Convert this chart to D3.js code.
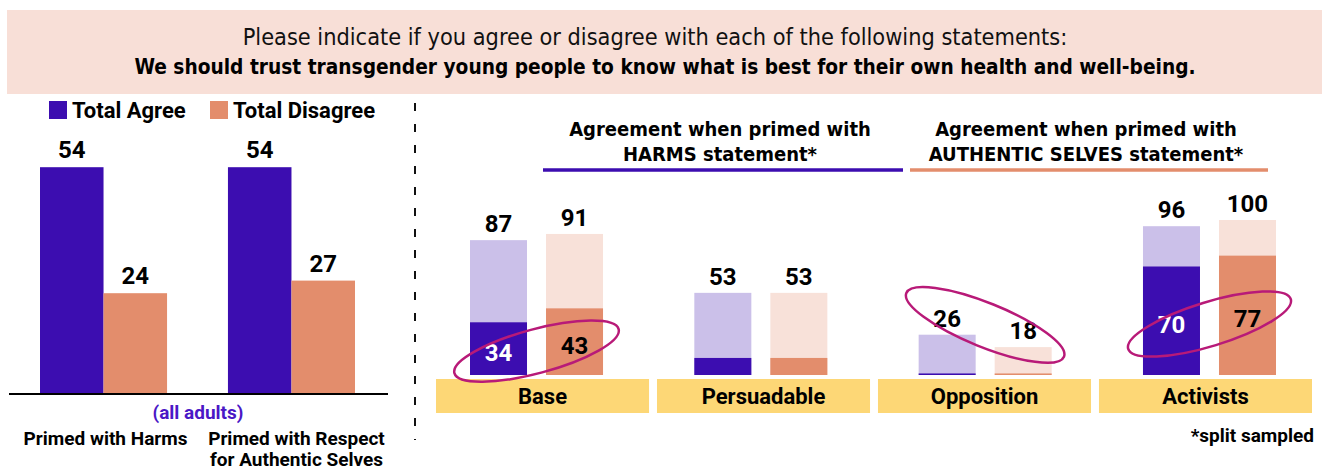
<!DOCTYPE html>
<html>
<head>
<meta charset="utf-8">
<script src="https://cdn.jsdelivr.net/npm/d3@7"></script>
<style>
  body { margin: 0; background: #fff; }
  svg { display: block; }
</style>
</head>
<body>
<div id="chart"></div>
<script>
// ---- data ----
var questionLine1 = "Please indicate if you agree or disagree with each of the following statements:";
var questionLine2 = "We should trust transgender young people to know what is best for their own health and well-being.";

var legendLabels = ["Total Agree", "Total Disagree"];
var leftGroups = ["Primed with Harms", "Primed with Respect for Authentic Selves"];
var leftAgree = [54, 54];
var leftDisagree = [24, 27];

var segments = ["Base", "Persuadable", "Opposition", "Activists"];
var primes = ["harms", "authentic"];
var primeHeaders = [
  ["Agreement when primed with", "HARMS statement*"],
  ["Agreement when primed with", "AUTHENTIC SELVES statement*"]
];
// total agree (light bar) and strongly agree (dark bar)
var harmsTotal = [87, 53, 26, 96];
var harmsStrong = [34, 11, 1, 70];
var authTotal = [91, 53, 18, 100];
var authStrong = [43, 11, 1, 77];
var showStrongLabel = [true, false, false, true];
var circled = ["Base", "Opposition", "Activists"];

var colors = {
  purple: "#3c0db0",
  purpleLight: "#cbc0e9",
  orange: "#e38d6c",
  orangeLight: "#f8e1d9",
  header: "#f8dfd7",
  band: "#fdd776",
  ring: "#b81a78"
};

var W = 1328, H = 471;
var svg = d3.select("#chart").append("svg")
  .attr("width", W).attr("height", H);

var condensed = "'DejaVu Sans Condensed', 'DejaVu Sans', sans-serif";
var sans = "Roboto, 'Noto Sans', sans-serif";

// ---- header box ----
svg.append("rect")
  .attr("x", 7).attr("y", 10).attr("width", 1315).attr("height", 84)
  .attr("fill", colors.header);
svg.append("text")
  .attr("x", 655).attr("y", 45)
  .attr("text-anchor", "middle")
  .style("font-family", condensed).style("font-size", "23.3px").style("fill", "#111")
  .text(questionLine1);
svg.append("text")
  .attr("x", 665).attr("y", 74)
  .attr("text-anchor", "middle")
  .style("font-family", condensed).style("font-size", "20.7px").style("font-weight", "bold").style("fill", "#000")
  .text(questionLine2);

// ---- left chart ----
var yL = d3.scaleLinear().domain([0, 60]).range([394, 142]);
var xL = d3.scaleBand().domain(leftGroups).range([40, 355]).paddingInner(0.324);
var xLin = d3.scaleBand().domain([0, 1]).range([0, xL.bandwidth()]);

var leftData = leftGroups.map(function (g, i) {
  return { group: g, values: [leftAgree[i], leftDisagree[i]] };
});

var lg = svg.append("g").attr("class", "left");

// legend
var legend = lg.selectAll(".legend").data(legendLabels).enter()
  .append("g").attr("class", "legend")
  .attr("transform", function (d, i) { return "translate(" + (i === 0 ? 49 : 210) + ",101)"; });
legend.append("rect")
  .attr("width", 18).attr("height", 18)
  .attr("fill", function (d, i) { return i === 0 ? colors.purple : colors.orange; });
legend.append("text")
  .attr("x", 23).attr("y", 17)
  .style("font-family", sans).style("font-size", "22px").style("font-weight", "bold")
  .text(function (d) { return d; });

var lgroup = lg.selectAll(".lgroup").data(leftData).enter()
  .append("g").attr("class", "lgroup")
  .attr("transform", function (d) { return "translate(" + xL(d.group) + ",0)"; });

lgroup.selectAll("rect").data(function (d) { return d.values; }).enter()
  .append("rect")
  .attr("x", function (d, i) { return xLin(i); })
  .attr("width", xLin.bandwidth())
  .attr("y", function (d) { return yL(d); })
  .attr("height", function (d) { return yL(0) - yL(d); })
  .attr("fill", function (d, i) { return i === 0 ? colors.purple : colors.orange; });

lgroup.selectAll("text.val").data(function (d) { return d.values; }).enter()
  .append("text").attr("class", "val")
  .attr("x", function (d, i) { return xLin(i) + xLin.bandwidth() / 2; })
  .attr("y", function (d) { return yL(d) - 9; })
  .attr("text-anchor", "middle")
  .style("font-family", sans).style("font-size", "24px").style("font-weight", "bold")
  .text(function (d) { return d; });

lg.append("line")
  .attr("x1", 9).attr("x2", 388).attr("y1", yL(0)).attr("y2", yL(0))
  .attr("stroke", "#000").attr("stroke-width", 2);

lg.append("text")
  .attr("x", 198).attr("y", 419)
  .attr("text-anchor", "middle")
  .style("font-family", sans).style("font-size", "19px").style("font-weight", "bold")
  .style("fill", "#4a17c6")
  .text("(all adults)");

var groupLines = [["Primed with Harms"], ["Primed with Respect", "for Authentic Selves"]];
lgroup.append("text")
  .attr("x", function (d, i) { return xL.bandwidth() / 2 + (i === 0 ? 2 : 5); })
  .attr("y", 445)
  .attr("text-anchor", "middle")
  .style("font-family", sans).style("font-size", "19px").style("font-weight", "bold")
  .selectAll("tspan").data(function (d, i) { return groupLines[i]; }).enter()
  .append("tspan")
  .attr("x", function () { return d3.select(this.parentNode).attr("x"); })
  .attr("dy", function (d, i) { return i === 0 ? 0 : 21; })
  .text(function (d) { return d; });

// dashed divider
svg.append("line")
  .attr("x1", 415).attr("x2", 415).attr("y1", 103).attr("y2", 440)
  .attr("stroke", "#111").attr("stroke-width", 2)
  .attr("stroke-dasharray", "8,13");

// ---- right chart ----
var yR = d3.scaleLinear().domain([0, 100]).range([375, 220]);
// yellow category bands and the bar pairs above them
var xR = d3.scaleBand().domain(segments).range([436, 1312]).paddingInner(0.036);
var xPair = d3.scaleBand().domain(segments).range([470, 1276]).paddingInner(0.407);
var xRin = d3.scaleBand().domain(primes).range([0, xPair.bandwidth()]).paddingInner(0.25);

var rightData = segments.map(function (s, i) {
  return {
    segment: s,
    showStrong: showStrongLabel[i],
    bars: [
      { prime: "harms", total: harmsTotal[i], strong: harmsStrong[i] },
      { prime: "authentic", total: authTotal[i], strong: authStrong[i] }
    ]
  };
});

var rg = svg.append("g").attr("class", "right");

// prime headers with underline
var headerX = [[543, 903], [910, 1268]];
var hdr = rg.selectAll(".phdr").data(primeHeaders).enter()
  .append("g").attr("class", "phdr");
hdr.append("text")
  .attr("x", function (d, i) { return (headerX[i][0] + headerX[i][1]) / 2 - 3; })
  .attr("y", 136)
  .attr("text-anchor", "middle")
  .style("font-family", condensed).style("font-size", "20px").style("font-weight", "bold")
  .selectAll("tspan").data(function (d) { return d; }).enter()
  .append("tspan")
  .attr("x", function () { return d3.select(this.parentNode).attr("x"); })
  .attr("dy", function (d, i) { return i === 0 ? 0 : 25; })
  .text(function (d) { return d; });
hdr.append("line")
  .attr("x1", function (d, i) { return headerX[i][0]; })
  .attr("x2", function (d, i) { return headerX[i][1]; })
  .attr("y1", 170).attr("y2", 170)
  .attr("stroke", function (d, i) { return i === 0 ? colors.purple : colors.orange; })
  .attr("stroke-width", 3.5);

// category bands
var band = rg.selectAll(".band").data(rightData).enter()
  .append("g").attr("class", "band")
  .attr("transform", function (d) { return "translate(" + xR(d.segment) + ",0)"; });
band.append("rect")
  .attr("x", 0).attr("y", 379)
  .attr("width", xR.bandwidth()).attr("height", 34)
  .attr("fill", colors.band);
band.append("text")
  .attr("x", xR.bandwidth() / 2).attr("y", 404)
  .attr("text-anchor", "middle")
  .style("font-family", sans).style("font-size", "22px").style("font-weight", "bold")
  .text(function (d) { return d.segment; });

var seg = rg.selectAll(".seg").data(rightData).enter()
  .append("g").attr("class", "seg")
  .attr("transform", function (d) { return "translate(" + xPair(d.segment) + ",0)"; });

var bar = seg.selectAll(".bar").data(function (d) {
    return d.bars.map(function (b) { b.showStrong = d.showStrong; return b; });
  }).enter()
  .append("g").attr("class", "bar")
  .attr("transform", function (d) { return "translate(" + xRin(d.prime) + ",0)"; });

bar.append("rect")
  .attr("width", xRin.bandwidth())
  .attr("y", function (d) { return yR(d.total); })
  .attr("height", function (d) { return yR(0) - yR(d.total); })
  .attr("fill", function (d) { return d.prime === "harms" ? colors.purpleLight : colors.orangeLight; });

bar.append("rect")
  .attr("width", xRin.bandwidth())
  .attr("y", function (d) { return yR(d.strong); })
  .attr("height", function (d) { return yR(0) - yR(d.strong); })
  .attr("fill", function (d) { return d.prime === "harms" ? colors.purple : colors.orange; });

bar.append("text")
  .attr("x", xRin.bandwidth() / 2)
  .attr("y", function (d) { return yR(d.total) - 8; })
  .attr("text-anchor", "middle")
  .style("font-family", sans).style("font-size", "24px").style("font-weight", "bold")
  .text(function (d) { return d.total; });

bar.filter(function (d) { return d.showStrong; })
  .append("text")
  .attr("x", xRin.bandwidth() / 2)
  .attr("y", function (d) { return (yR(d.strong) + yR(0)) / 2 + 12; })
  .attr("text-anchor", "middle")
  .style("font-family", sans).style("font-size", "24px").style("font-weight", "bold")
  .style("fill", function (d) { return d.prime === "harms" ? "#fff" : "#000"; })
  .text(function (d) { return d.strong; });

// highlight rings
var ringTilt = { Base: -15, Opposition: 22, Activists: -17 };
seg.filter(function (d) { return circled.indexOf(d.segment) >= 0; })
  .append("ellipse")
  .attr("transform", function (d) {
    var cy;
    if (d.showStrong) {
      cy = d3.mean(d.bars, function (b) { return (yR(b.strong) + yR(0)) / 2; }) + 6;
    } else {
      cy = d3.mean(d.bars, function (b) { return yR(b.total); }) - 16;
    }
    var cx = xPair.bandwidth() / 2;
    return "translate(" + cx + "," + cy + ") rotate(" + ringTilt[d.segment] + ")";
  })
  .attr("rx", 85).attr("ry", 22)
  .attr("fill", "none")
  .attr("stroke", colors.ring).attr("stroke-width", 2.5);

svg.append("text")
  .attr("x", 1314).attr("y", 442)
  .attr("text-anchor", "end")
  .style("font-family", sans).style("font-size", "19px").style("font-weight", "bold")
  .text("*split sampled");
</script>
</body>
</html>
